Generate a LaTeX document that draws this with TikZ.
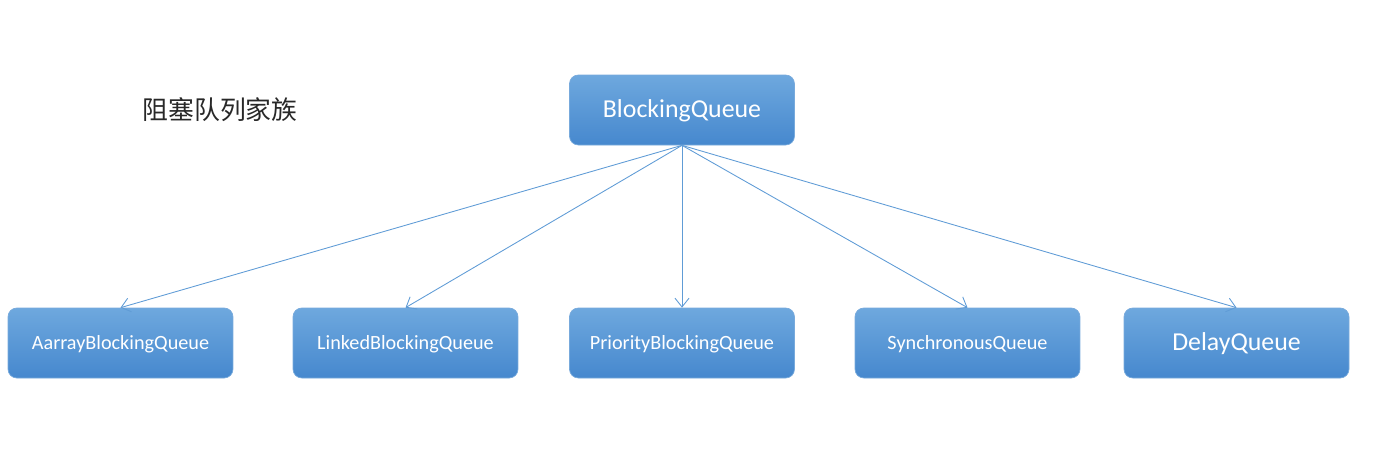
\documentclass[tikz,border=0pt]{standalone}
\usepackage{fontspec}
\setmainfont{Carlito}
\newfontfamily\cjk{Noto Sans CJK SC}
\usepackage{tikz}
\usetikzlibrary{arrows.meta}

\definecolor{boxtop}{RGB}{110,168,222}
\definecolor{boxbot}{RGB}{70,136,206}
\definecolor{boxline}{RGB}{120,170,220}
\definecolor{linkcol}{RGB}{96,156,214}
\definecolor{titlecol}{RGB}{40,40,40}

\begin{document}
\begin{tikzpicture}[x=0.02cm, y=-0.02cm,
    title/.style={text=titlecol, font=\cjk\fontsize{14.7}{16}\selectfont},
    queue/.style={draw=boxline, rounded corners=5pt, top color=boxtop, bottom color=boxbot,
      minimum width=4.5cm, minimum height=1.4cm, text=white, text height=8.5pt, text depth=1.6pt,
      font=\fontsize{11.5}{12}\selectfont},
    big/.style={text height=11pt, text depth=2.2pt, font=\fontsize{14.7}{16}\selectfont},
    link/.style={draw=linkcol, line width=0.5pt},
    >={Straight Barb[length=5pt, width=8pt]}]
    \useasboundingbox (0,0) rectangle (1378,454);

    % Define nodes
    \node[title] (T) at (220,110) {阻塞队列家族};

    \node[queue, big] (Q0) at (682,110) {BlockingQueue};

    \node[queue] (Q1) at (120.5,343) {AarrayBlockingQueue};
    \node[queue] (Q2) at (405.5,343) {LinkedBlockingQueue};
    \node[queue] (Q3) at (682,343) {PriorityBlockingQueue};
    \node[queue] (Q4) at (967.5,343) {SynchronousQueue};
    \node[queue, big] (Q5) at (1236.5,343) {DelayQueue};

    % Draw arrows
    \foreach \i in {1,...,5}
        \draw[link, ->] (Q0.south) -- (Q\i.north);
\end{tikzpicture}
\end{document}
